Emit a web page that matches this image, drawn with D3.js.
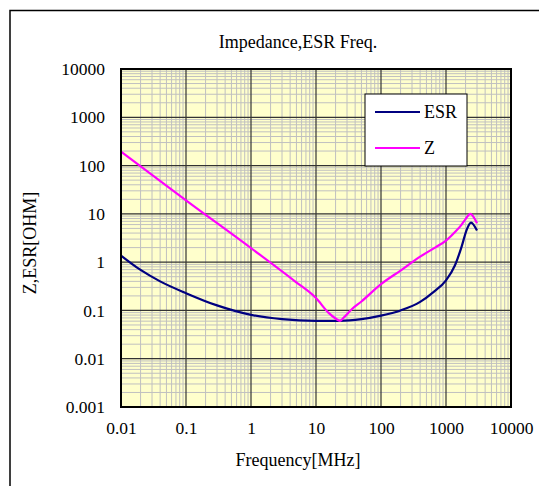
<!DOCTYPE html>
<html>
<head>
<meta charset="utf-8">
<script src="https://cdn.jsdelivr.net/npm/d3@7"></script>
<style>
  body { margin: 0; background: #fff; }
</style>
</head>
<body>
<div id="chart"></div>
<script>
var W = 539, H = 486,
    margin = { top: 69, left: 121, right: 28, bottom: 79 },
    width = W - margin.left - margin.right,
    height = H - margin.top - margin.bottom,
    serif = "'Liberation Serif', 'Times New Roman', Tinos, serif";

// tick labels
var xTicks = [0.01, 0.1, 1, 10, 100, 1000, 10000],
    yTicks = [0.001, 0.01, 0.1, 1, 10, 100, 1000, 10000],
    xLabels = ["0.01", "0.1", "1", "10", "100", "1000", "10000"],
    yLabels = ["0.001", "0.01", "0.1", "1", "10", "100", "1000", "10000"];

// series (MHz, ohm)
var esrFreq = [0.01, 0.02, 0.04, 0.1, 0.3, 1, 3, 10, 23, 50, 100, 200, 400, 640, 1000, 1375, 1740, 2080, 2425, 3000],
    esrVals = [1.37, 0.69, 0.40, 0.228, 0.127, 0.081, 0.066, 0.061, 0.061, 0.066, 0.078, 0.1, 0.15, 0.24, 0.42, 0.86, 2.1, 4.66, 6.6, 4.5];
var zFreq = [0.01, 0.1, 1, 4.75, 10, 15.5, 20, 23.4, 27, 35.5, 50, 100, 200, 400, 700, 1000, 1400, 1740, 2000, 2360, 3000],
    zVals = [195, 19, 1.95, 0.40, 0.18, 0.09, 0.068, 0.061, 0.072, 0.106, 0.153, 0.35, 0.67, 1.3, 2.05, 2.8, 4.3, 6.0, 7.8, 10, 6.4];

var series = [
    { name: "ESR", color: "#000080", x: esrFreq, y: esrVals },
    { name: "Z", color: "#ff00ff", x: zFreq, y: zVals }
];

var svg = d3.select("#chart").append("svg")
    .attr("width", W)
    .attr("height", H);

// outer chart frame (right and bottom run off the picture)
svg.append("rect")
    .attr("x", 10).attr("y", 10.5)
    .attr("width", 600).attr("height", 600)
    .attr("fill", "#fff")
    .attr("stroke", "#000")
    .attr("stroke-width", 1.5);

var x = d3.scaleLog().domain([0.01, 10000]).range([0, width]);
var y = d3.scaleLog().domain([0.001, 10000]).range([height, 0]);

var chart = svg.append("g")
    .attr("transform", "translate(" + margin.left + "," + margin.top + ")");

chart.append("rect")
    .attr("width", width).attr("height", height)
    .attr("fill", "#ffffcc");

// minor gridlines 2..9 in every decade
var xMinor = [], yMinor = [];
xTicks.slice(0, -1).forEach(function (d) {
    for (var k = 2; k < 10; k++) xMinor.push(d * k);
});
yTicks.slice(0, -1).forEach(function (d) {
    for (var k = 2; k < 10; k++) yMinor.push(d * k);
});

chart.append("g").selectAll("line").data(xMinor).join("line")
    .attr("x1", d => x(d)).attr("x2", d => x(d))
    .attr("y1", 0).attr("y2", height)
    .attr("stroke", "#c0c0c0").attr("stroke-width", 1);
chart.append("g").selectAll("line").data(yMinor).join("line")
    .attr("y1", d => y(d)).attr("y2", d => y(d))
    .attr("x1", 0).attr("x2", width)
    .attr("stroke", "#c0c0c0").attr("stroke-width", 1);

// major gridlines
chart.append("g").selectAll("line").data(xTicks).join("line")
    .attr("x1", d => x(d)).attr("x2", d => x(d))
    .attr("y1", 0).attr("y2", height)
    .attr("stroke", "#333").attr("stroke-width", 1.2);
chart.append("g").selectAll("line").data(yTicks).join("line")
    .attr("y1", d => y(d)).attr("y2", d => y(d))
    .attr("x1", 0).attr("x2", width)
    .attr("stroke", "#333").attr("stroke-width", 1.2);

// curves
var line = d3.line()
    .x(d => x(d[0]))
    .y(d => y(d[1]))
    .curve(d3.curveMonotoneX);

series.forEach(function (s) {
    chart.append("path")
        .datum(s.x.map((f, i) => [f, s.y[i]]))
        .attr("d", line)
        .attr("fill", "none")
        .attr("stroke", s.color)
        .attr("stroke-width", 2.2);
});

// plot border
chart.append("rect")
    .attr("width", width).attr("height", height)
    .attr("fill", "none")
    .attr("stroke", "#000")
    .attr("stroke-width", 2);

// axes
var xAxis = chart.append("g")
    .attr("transform", "translate(0," + height + ")")
    .call(d3.axisBottom(x).tickValues(xTicks)
        .tickFormat((d, i) => xLabels[i])
        .tickSize(0).tickPadding(15));
var yAxis = chart.append("g")
    .call(d3.axisLeft(y).tickValues(yTicks)
        .tickFormat((d, i) => yLabels[i])
        .tickSize(0).tickPadding(16));
[xAxis, yAxis].forEach(function (a) {
    a.select(".domain").remove();
    a.selectAll("text")
        .style("font-family", serif)
        .style("font-size", "17.5px")
        .attr("fill", "#000");
});

// titles
function label(sel) {
    return sel.style("font-family", serif)
        .style("font-size", "18px")
        .attr("fill", "#000");
}

label(svg.append("text"))
    .attr("x", 298).attr("y", 48)
    .attr("text-anchor", "middle")
    .text("Impedance,ESR Freq.");

label(svg.append("text"))
    .attr("x", 298).attr("y", 466)
    .attr("text-anchor", "middle")
    .text("Frequency[MHz]");

label(svg.append("text"))
    .attr("transform", "translate(36,243) rotate(-90)")
    .attr("text-anchor", "middle")
    .text("Z,ESR[OHM]");

// legend
var legend = svg.append("g").attr("transform", "translate(365,94)");
legend.append("rect")
    .attr("width", 102).attr("height", 72)
    .attr("fill", "#fff")
    .attr("stroke", "#000")
    .attr("stroke-width", 1);
series.forEach(function (s, i) {
    var ly = 18 + i * 36;
    legend.append("line")
        .attr("x1", 10).attr("x2", 55)
        .attr("y1", ly).attr("y2", ly)
        .attr("stroke", s.color)
        .attr("stroke-width", 2.2);
    label(legend.append("text"))
        .attr("x", 59).attr("y", ly + 6)
        .text(s.name);
});
</script>
</body>
</html>
